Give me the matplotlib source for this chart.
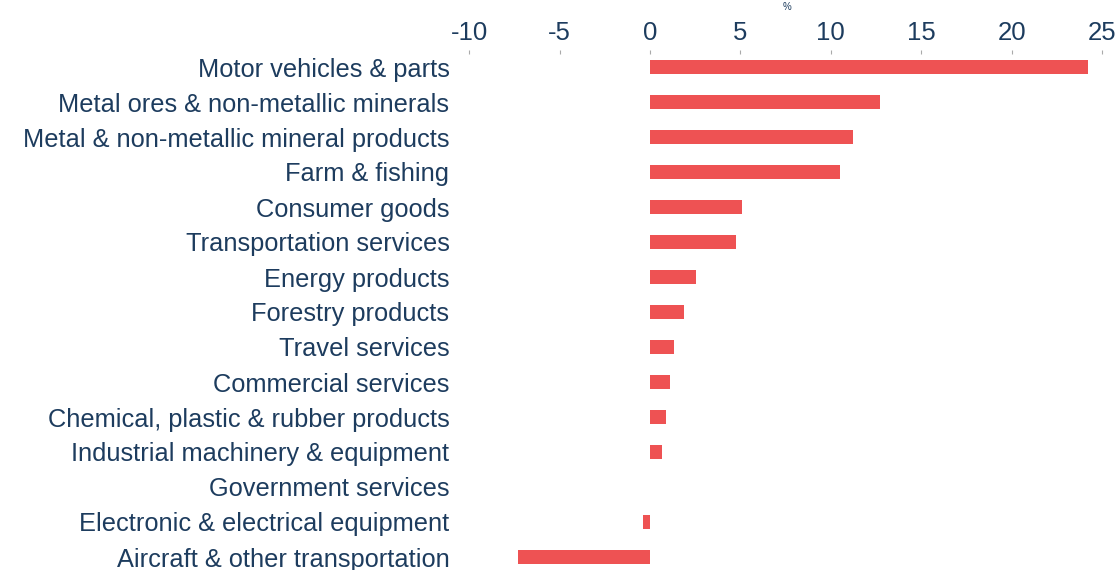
import numpy as np
import matplotlib.pyplot as plt

plt.rcParams['font.family'] = ['Liberation Sans', 'DejaVu Sans']

categories = ['Motor vehicles & parts', 'Metal ores & non-metallic minerals',
              'Metal & non-metallic mineral products', 'Farm & fishing',
              'Consumer goods', 'Transportation services', 'Energy products',
              'Forestry products', 'Travel services', 'Commercial services',
              'Chemical, plastic & rubber products',
              'Industrial machinery & equipment', 'Government services',
              'Electronic & electrical equipment', 'Aircraft & other transportation']
values = [24.2, 12.7, 11.2, 10.5, 5.1, 4.75, 2.55, 1.9, 1.3, 1.1, 0.88, 0.68,
          0.0, -0.4, -7.3]
xticks = [-10, -5, 0, 5, 10, 15, 20, 25]

navy = '#1d3c5e'
red = '#ee5253'

fig = plt.figure(figsize=(11.19, 5.70), dpi=100)
ax = fig.add_axes([455/1119, -4.5/570, 655/1119, 525/570])

y = np.arange(len(categories))
ax.barh(y, values, height=0.4, color=red)
ax.set_ylim(len(categories) - 0.5, -0.5)
ax.set_xlim(-10.79, 25.44)
ax.set_yticks(y)
ax.set_yticklabels(categories, fontsize=18.3, color=navy)
ax.set_xticks(xticks)
ax.set_xticklabels([str(t) for t in xticks], fontsize=18.5, color=navy)
ax.xaxis.tick_top()
ax.tick_params(axis='x', length=3, width=0.8, color='#aaaaaa', pad=3,
               direction='in')
ax.tick_params(axis='y', length=0, pad=4)
for s in ax.spines.values():
    s.set_visible(False)

fig.text(787/1119, 1 - 7/570, '%', fontsize=7, color=navy, ha='center', va='center')

fig.savefig('out.png', dpi=100)
